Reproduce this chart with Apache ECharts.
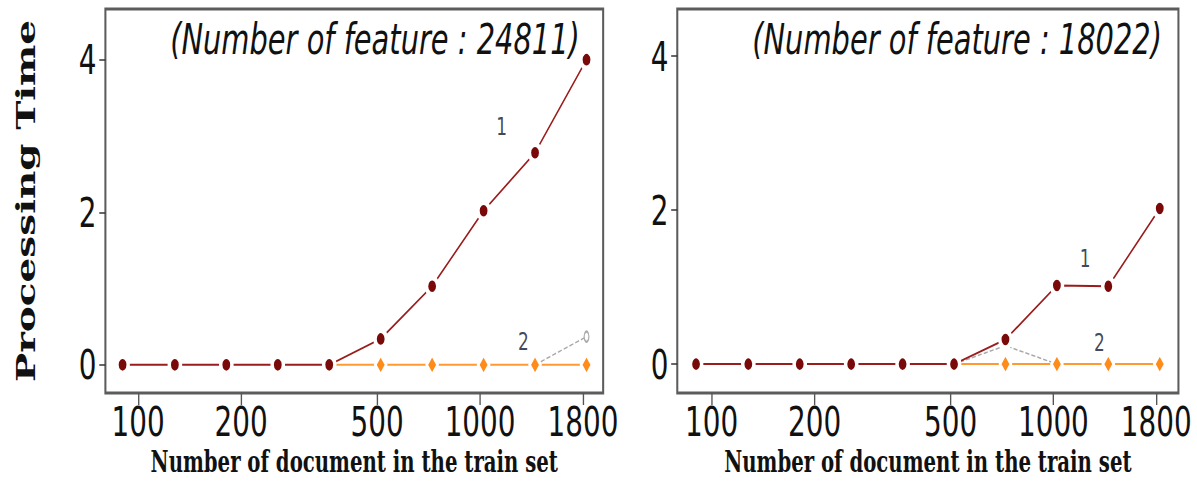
<!DOCTYPE html>
<html><head><meta charset="utf-8">
<script src="https://cdn.jsdelivr.net/npm/echarts@6/dist/echarts.min.js"></script>
<style>
html,body{margin:0;padding:0;overflow:hidden;background:#fff;width:1197px;height:482px}
#wrap{width:1197px;height:482px;overflow:hidden;position:relative}
#chart{width:1760px;height:482px;transform:scaleX(0.68);transform-origin:0 0;position:absolute;left:0;top:0}
</style></head><body><div id="wrap"><div id="chart"></div></div>
<script>
// ---- data ----
const docs = [90, 128, 181, 256, 362, 512, 724, 1024, 1448, 2048];
const xTickValues = [100, 200, 500, 1000, 2000];
const xTickLabels = ['100', '200', '500', '1000', '1800'];
const yTickValues = [0, 2, 4];
const titles = ['(Number of feature : 24811)', '(Number of feature : 18022)'];
const xName = 'Number of document in the train set';
const yName = 'Processing Time';

const leftMethod1 = [0, 0, 0, 0, 0, 0.34, 1.03, 2.02, 2.78, 4.0];
const leftMethod2 = [null, null, null, null, 0, 0, 0, 0, 0, 0];
const leftMethod3 = [null, null, null, null, null, null, null, null, 0, 0.37];
const rightMethod1 = [0, 0, 0, 0, 0, 0, 0.32, 1.02, 1.01, 2.02];
const rightMethod2 = [null, null, null, null, null, 0, 0, 0, 0, 0];
const rightMethod3 = [null, null, null, null, null, 0, 0.24, 0, null, null];

const leftNotes = [{ name: '1', docs: 1157, value: 3.13 }, { name: '2', docs: 1339, value: 0.31 }];
const rightNotes = [{ name: '1', docs: 1238, value: 1.37 }, { name: '2', docs: 1364, value: 0.28 }];

// ---- build ----
const lg = Math.log10;
function pts(vals) {
  const out = [];
  vals.forEach((v, i) => { if (v !== null) out.push([lg(docs[i]), v]); });
  return out;
}
function fmtX(v) {
  for (let i = 0; i < xTickValues.length; i++) if (Math.abs(lg(xTickValues[i]) - v) < 1e-6) return xTickLabels[i];
  return '';
}
const tickFont = { fontFamily: 'DejaVu Sans', fontSize: 41, color: '#111' };

function xAxis(gi, min, max) {
  return {
    type: 'value', gridIndex: gi, min: min, max: max,
    axisLine: { show: false, onZero: false }, splitLine: { show: false },
    axisTick: { show: true, customValues: xTickValues.map(lg), length: 12, lineStyle: { color: '#555', width: 2 } },
    axisLabel: Object.assign({ customValues: xTickValues.map(lg), formatter: fmtX, margin: 8 }, tickFont),
    name: xName, nameLocation: 'middle', nameGap: 55,
    nameTextStyle: { fontFamily: 'DejaVu Serif', fontWeight: 'bold', fontSize: 29, color: '#111' }
  };
}
function yAxis(gi, min, max, withName) {
  const a = {
    type: 'value', gridIndex: gi, min: min, max: max,
    axisLine: { show: false, onZero: false }, splitLine: { show: false },
    axisTick: { show: true, customValues: yTickValues, length: 9, lineStyle: { color: '#333', width: 1.5 } },
    axisLabel: Object.assign({ customValues: yTickValues, margin: 13 }, tickFont)
  };
  if (withName) {
    a.name = yName; a.nameLocation = 'middle'; a.nameRotate = 90; a.nameGap = 98;
    a.nameTextStyle = { fontFamily: 'DejaVu Serif', fontWeight: 'bold', fontSize: 39, color: '#111' };
  }
  return a;
}
function panelSeries(idx, m1, m2, m3, notes) {
  const gray = pts(m3).map((p, i, arr) => ({
    value: p,
    symbol: (idx === 0 && i === arr.length - 1) ? 'emptyCircle' : 'none',
    symbolSize: [7, 10]
  }));
  return [
    { type: 'line', xAxisIndex: idx, yAxisIndex: idx, z: 1, data: gray,
      lineStyle: { color: '#a8a8a8', width: 1.5, type: 'dashed' },
      itemStyle: { color: '#aaa', borderWidth: 1.5 } },
    { type: 'line', xAxisIndex: idx, yAxisIndex: idx, z: 2, data: pts(m2),
      symbol: 'diamond', symbolSize: [16, 20],
      lineStyle: { color: '#ff9a30', width: 2 },
      itemStyle: { color: '#ff8c1a', borderColor: '#fff', borderWidth: 3.5 } },
    { type: 'line', xAxisIndex: idx, yAxisIndex: idx, z: 3, data: pts(m1),
      symbol: 'circle', symbolSize: 16.5,
      lineStyle: { color: '#9a1c1c', width: 2 },
      itemStyle: { color: '#7a0a0a', borderColor: '#fff', borderWidth: 5 } },
    { type: 'scatter', xAxisIndex: idx, yAxisIndex: idx, z: 4, silent: true,
      data: notes.map(n => ({ name: n.name, value: [lg(n.docs), n.value] })),
      symbolSize: 1, itemStyle: { color: 'rgba(0,0,0,0)' },
      label: { show: true, position: 'inside', formatter: '{b}', color: '#101630', fontSize: 25, fontFamily: 'DejaVu Sans' } }
  ];
}

const titleStyle = { fontFamily: 'DejaVu Sans', fontStyle: 'italic', fontWeight: 'normal', fontSize: 42.5, color: '#111' };
const option = {
  animation: false,
  backgroundColor: '#fff',
  title: [
    { text: titles[0], right: 902, top: 13, textStyle: titleStyle },
    { text: titles[1], right: 46, top: 13, textStyle: titleStyle }
  ],
  grid: [
    { left: 155, top: 9, width: 732, height: 386, show: true, borderColor: '#5c5c5c', borderWidth: 3 },
    { left: 996, top: 9, width: 737, height: 385, show: true, borderColor: '#5c5c5c', borderWidth: 3 }
  ],
  xAxis: [xAxis(0, 1.904, 3.36), xAxis(1, 1.8993, 3.366)],
  yAxis: [yAxis(0, -0.369, 4.664, true), yAxis(1, -0.375, 4.61, false)],
  series: panelSeries(0, leftMethod1, leftMethod2, leftMethod3, leftNotes)
    .concat(panelSeries(1, rightMethod1, rightMethod2, rightMethod3, rightNotes))
};
const chart = echarts.init(document.getElementById('chart'), null, { renderer: 'svg' });
chart.setOption(option);
</script></body></html>
